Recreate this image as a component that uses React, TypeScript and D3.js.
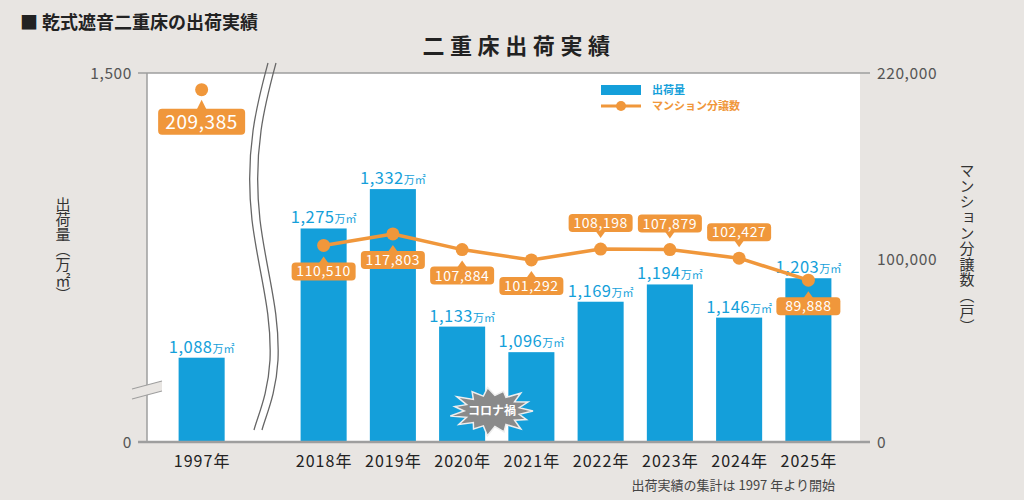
import React from 'react';
import * as d3 from 'd3';

// ---------- data ----------
const categories = ['1997年', '2018年', '2019年', '2020年', '2021年', '2022年', '2023年', '2024年', '2025年'];
const shipments = [1088, 1275, 1332, 1133, 1096, 1169, 1194, 1146, 1203]; // 万㎡
const condoUnits = [209385, 110510, 117803, 107884, 101292, 108198, 107879, 102427, 89888]; // 戸
const leftTicks = [966, 1500];
const leftTickLabels = ['0', '1,500'];
const rightTicks = [0, 100000, 220000];
const rightTickLabels = ['0', '100,000', '220,000'];
const calloutAbove = ['2022年', '2023年', '2024年'];

const pageTitle = '乾式遮音二重床の出荷実績';
const chartTitle = '二重床出荷実績';
const leftTitle = '出荷量（万㎡）';
const rightTitle = 'マンション分譲数（戸）';
const legendBar = '出荷量';
const legendLine = 'マンション分譲数';
const note = '出荷実績の集計は 1997 年より開始';
const badge = 'コロナ禍';

// ---------- style ----------
const BG = '#E8E5E2';
const BLUE = '#149FDA';
const ORANGE = '#F0973B';
const AXIS = '#9E9E9E';
const FONT = '"Noto Sans CJK JP", "Noto Sans", sans-serif';

const plot = { left: 147, right: 860, top: 73, bottom: 442 };

export default function App() {
  const yLeft = d3.scaleLinear().domain([leftTicks[0], leftTicks[1]]).range([plot.bottom, plot.top]);
  const yRight = d3.scaleLinear().domain(rightTicks).range([plot.bottom, 262, plot.top]);

  const recent = categories.slice(1);
  const xMain = d3.scaleBand().domain(recent).range([289, 843]).paddingInner(0.335).paddingOuter(0.1675);
  const xOld = d3.scaleBand().domain([categories[0]]).range([147, 256]).paddingInner(0.58).paddingOuter(0.29);
  const xBand = (c: string) => (c === categories[0] ? xOld(c)! : xMain(c)!);
  const bw = xMain.bandwidth();
  const xc = (c: string) => xBand(c) + bw / 2;

  const linePts = recent.map((c, i) => [xc(c), yRight(condoUnits[i + 1])] as [number, number]);
  const linePath = d3.line()(linePts) || '';

  // wavy break
  const wave = (dx: number) => {
    const p = d3.path();
    p.moveTo(268 + dx, 63);
    p.bezierCurveTo(258 + dx, 100, 244 + dx, 150, 252 + dx, 220);
    p.bezierCurveTo(258 + dx, 270, 272 + dx, 310, 270 + dx, 360);
    p.bezierCurveTo(268 + dx, 395, 258 + dx, 415, 254 + dx, 430);
    return p.toString();
  };

  // starburst badge
  const bcx = 492, bcy = 411;
  const spikes = 15;
  const jitter = [1, 0.92, 1.05, 0.95, 1.08, 0.9, 1, 1.04, 0.93, 1.06, 0.97, 1.02, 0.9, 1.05, 0.96];
  const starPts: [number, number][] = d3.range(spikes * 2).map((k) => {
    const a = (k / (spikes * 2)) * Math.PI * 2;
    const r = k % 2 === 0 ? jitter[(k / 2) % spikes] : 0.68;
    return [bcx + Math.cos(a) * 41 * r, bcy + Math.sin(a) * 23 * r];
  });
  const starPath = 'M' + starPts.map((p) => p.join(',')).join('L') + 'Z';

  const fmt = d3.format(',');

  return (
    <svg width={1024} height={500} style={{ position: 'absolute', left: 0, top: 0, fontFamily: FONT }}>
      <rect x={0} y={0} width={1024} height={500} fill={BG} />
      {/* page heading */}
      <text x={20} y={29} fontSize={18} fontWeight={700} fill="#222">
        ■ {pageTitle}
      </text>
      <text x={519} y={54} textAnchor="middle" fontSize={22} fontWeight={700} fill="#222" letterSpacing={5.6}>
        {chartTitle}
      </text>

      {/* plot area */}
      <rect x={plot.left} y={plot.top} width={plot.right - plot.left} height={plot.bottom - plot.top} fill="#fff" />
      <line x1={138} x2={870} y1={plot.top} y2={plot.top} stroke={AXIS} strokeWidth={1.5} />
      <line x1={plot.left} x2={plot.left} y1={plot.top} y2={plot.bottom} stroke={AXIS} strokeWidth={1.5} />

      {/* left ticks */}
      {leftTicks.map((t, i) => (
        <text key={'lt' + i} x={132} y={yLeft(t)} dy="0.36em" textAnchor="end" fontSize={15.5} fill="#555" letterSpacing={0.6}>
          {leftTickLabels[i]}
        </text>
      ))}
      {/* right ticks */}
      {rightTicks.map((t, i) => (
        <text key={'rt' + i} x={877} y={yRight(t) - (t === 100000 ? 3 : 0)} dy="0.36em" textAnchor="start" fontSize={15.5} fill="#555" letterSpacing={0.6}>
          {rightTickLabels[i]}
        </text>
      ))}

      {/* axis titles */}
      <text x={63} y={197} fontSize={15} fill="#333" style={{ writingMode: 'vertical-rl' as any }}>
        {leftTitle}
      </text>
      <text x={967} y={163} fontSize={15} fill="#333" letterSpacing={0.6} style={{ writingMode: 'vertical-rl' as any }}>
        {rightTitle}
      </text>

      {/* bars */}
      {categories.map((c, i) => (
        <rect key={'b' + i} x={xBand(c)} y={yLeft(shipments[i])} width={bw} height={plot.bottom - yLeft(shipments[i])} fill={BLUE} />
      ))}
      {/* bar labels */}
      {categories.map((c, i) => (
        <text key={'bl' + i} x={xc(c)} y={yLeft(shipments[i]) - 5} textAnchor="middle" fill={BLUE} fontSize={16.5} letterSpacing={0.5}>
          {fmt(shipments[i])}
          <tspan fontSize={11} letterSpacing={0}>万㎡</tspan>
        </text>
      ))}

      {/* axis break on left */}
      <polygon points="132,389 162,381 162,391 132,399" fill={BG} />
      <line x1={132} y1={389} x2={162} y2={381} stroke={AXIS} strokeWidth={1.2} />
      <line x1={132} y1={399} x2={162} y2={391} stroke={AXIS} strokeWidth={1.2} />

      {/* wavy break */}
      <path d={wave(0)} fill="none" stroke="#666" strokeWidth={1.3} />
      <path d={wave(8)} fill="none" stroke="#666" strokeWidth={1.3} />

      {/* bottom axis */}
      <line x1={138} x2={870} y1={plot.bottom} y2={plot.bottom} stroke={AXIS} strokeWidth={2.5} />
      {categories.map((c, i) => (
        <text key={'xl' + i} x={xc(c) + 0.5} y={467} textAnchor="middle" fontSize={16} fill="#222" letterSpacing={1}>
          {c}
        </text>
      ))}

      {/* line */}
      <path d={linePath} fill="none" stroke={ORANGE} strokeWidth={3.5} strokeLinejoin="round" />
      {categories.map((c, i) => (
        <circle key={'p' + i} cx={xc(c)} cy={yRight(condoUnits[i])} r={6.5} fill={ORANGE} />
      ))}

      {/* callouts */}
      {categories.map((c, i) => {
        const big = i === 0;
        const px = xc(c);
        const py = yRight(condoUnits[i]);
        const above = calloutAbove.includes(c);
        const w = big ? 87 : 64;
        const h = big ? 26 : 18;
        const gap = big ? 19 : 17;
        const tri = big ? 9 : 6;
        const s = above ? -1 : 1;
        const edge = py + s * gap;
        const boxY = above ? edge - h : edge;
        const tip = edge - s * tri;
        return (
          <g key={'c' + i}>
            <rect x={px - w / 2} y={boxY} width={w} height={h} rx={4} fill={ORANGE} />
            <path d={`M${px - 5},${edge + s * 1}L${px},${tip}L${px + 5},${edge + s * 1}Z`} fill={ORANGE} />
            <text x={px} y={boxY + h / 2} dy="0.36em" textAnchor="middle" fill="#fff" fontSize={big ? 19 : 14} letterSpacing={0.6}>
              {fmt(condoUnits[i])}
            </text>
          </g>
        );
      })}

      {/* corona badge */}
      <path d={starPath} fill="#8A8A8A" stroke="#eee" strokeWidth={1.5} strokeLinejoin="miter" />
      <text x={bcx} y={bcy} dy="0.36em" textAnchor="middle" fontSize={12} fontWeight={700} fill="#fff">
        {badge}
      </text>

      {/* legend */}
      <rect x={601} y={85} width={40} height={10} fill={BLUE} />
      <text x={652} y={90} dy="0.36em" fontSize={11} fontWeight={700} fill={BLUE}>
        {legendBar}
      </text>
      <line x1={601} x2={641} y1={106} y2={106} stroke={ORANGE} strokeWidth={3} />
      <circle cx={621} cy={106} r={5} fill={ORANGE} />
      <text x={652} y={106} dy="0.36em" fontSize={11} fontWeight={700} fill={ORANGE}>
        {legendLine}
      </text>

      {/* note */}
      <text x={835} y={490} textAnchor="end" fontSize={13} fill="#444">
        {note}
      </text>
    </svg>
  );
}
